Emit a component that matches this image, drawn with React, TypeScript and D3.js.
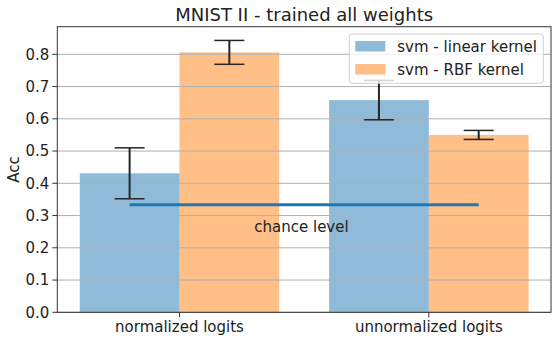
import * as d3 from "d3";

const categories = ["normalized logits", "unnormalized logits"];
const seriesNames = ["svm - linear kernel", "svm - RBF kernel"];
const linearAcc = [0.431, 0.658];
const linearErr = [0.079, 0.061];
const rbfAcc = [0.806, 0.55];
const rbfErr = [0.037, 0.014];
const yTicks = [0, 0.1, 0.2, 0.3, 0.4, 0.5, 0.6, 0.7, 0.8];
const chanceLevel = 1 / 3;

const W = 558;
const H = 341;
const m = { left: 57.3, right: 7, top: 26.7, bottom: 28.7 };
const colors = ["#1f77b4", "#ff7f0e"];
const font = "DejaVu Sans, sans-serif";

export default function App() {
  const x = d3.scaleLinear().domain([-0.49, 1.49]).range([m.left, W - m.right]);
  const y = d3.scaleLinear().domain([0, 0.8856]).range([H - m.bottom, m.top]);
  const bw = 0.4;

  const series = [
    { vals: linearAcc, errs: linearErr, off: -bw / 2 },
    { vals: rbfAcc, errs: rbfErr, off: bw / 2 },
  ];

  return (
    <svg
      width={W}
      height={H}
      style={{ position: "absolute", left: 0, top: 0, fontFamily: font }}
    >
      <rect width={W} height={H} fill="white" />
      {series.map((s, si) =>
        s.vals.map((v, i) => (
          <rect
            key={`b${si}-${i}`}
            x={x(i + s.off - bw / 2)}
            width={x(bw) - x(0)}
            y={y(v)}
            height={y(0) - y(v)}
            fill={colors[si]}
            fillOpacity={0.5}
          />
        ))
      )}
      {yTicks.map((t) => (
        <g key={t}>
          <line x1={m.left} x2={W - m.right} y1={y(t)} y2={y(t)} stroke="#b0b0b0" strokeWidth={1} />
          <line x1={m.left - 5} x2={m.left} y1={y(t)} y2={y(t)} stroke="#333" strokeWidth={1} />
          <text x={m.left - 8} y={y(t)} dy="0.36em" textAnchor="end" fontSize={15} fill="#222">
            {t.toFixed(1)}
          </text>
        </g>
      ))}
      {series.map((s, si) =>
        s.vals.map((v, i) => {
          const cx = x(i + s.off);
          return (
            <g key={`e${si}-${i}`} stroke="#262626" strokeWidth={2}>
              <line x1={cx} x2={cx} y1={y(v - s.errs[i])} y2={y(v + s.errs[i])} />
              <line x1={cx - 15} x2={cx + 15} y1={y(v - s.errs[i])} y2={y(v - s.errs[i])} strokeWidth={1.5} />
              <line x1={cx - 15} x2={cx + 15} y1={y(v + s.errs[i])} y2={y(v + s.errs[i])} strokeWidth={1.5} />
            </g>
          );
        })
      )}
      <line
        x1={x(-0.2)}
        x2={x(1.2)}
        y1={y(chanceLevel)}
        y2={y(chanceLevel)}
        stroke={colors[0]}
        strokeWidth={3}
      />
      <text x={x(0.3)} y={y(0.25)} fontSize={15} fill="#222">
        chance level
      </text>
      <rect
        x={m.left}
        y={m.top}
        width={W - m.right - m.left}
        height={H - m.bottom - m.top}
        fill="none"
        stroke="#333"
        strokeWidth={1}
      />
      {categories.map((c, i) => (
        <g key={c}>
          <line x1={x(i)} x2={x(i)} y1={H - m.bottom} y2={H - m.bottom + 5} stroke="#333" />
          <text x={x(i)} y={H - m.bottom + 20} textAnchor="middle" fontSize={15} fill="#222">
            {c}
          </text>
        </g>
      ))}
      <text
        transform={`translate(19,${(m.top + H - m.bottom) / 2}) rotate(-90)`}
        textAnchor="middle"
        fontSize={15}
        fill="#222"
      >
        Acc
      </text>
      <text x={(m.left + W - m.right) / 2} y={21} textAnchor="middle" fontSize={18} fill="#222">
        MNIST II - trained all weights
      </text>
      <g transform="translate(349.3,34)">
        <rect width={194} height={49.3} rx={3} fill="white" fillOpacity={0.8} stroke="#d0d0d0" />
        {seriesNames.map((n, i) => (
          <g key={n} transform={`translate(0,${i * 23})`}>
            <rect x={6} y={7} width={30} height={10.5} fill={colors[i]} fillOpacity={0.5} />
            <text x={48} y={12.3} dy="0.36em" fontSize={15} fill="#222">
              {n}
            </text>
          </g>
        ))}
      </g>
    </svg>
  );
}
